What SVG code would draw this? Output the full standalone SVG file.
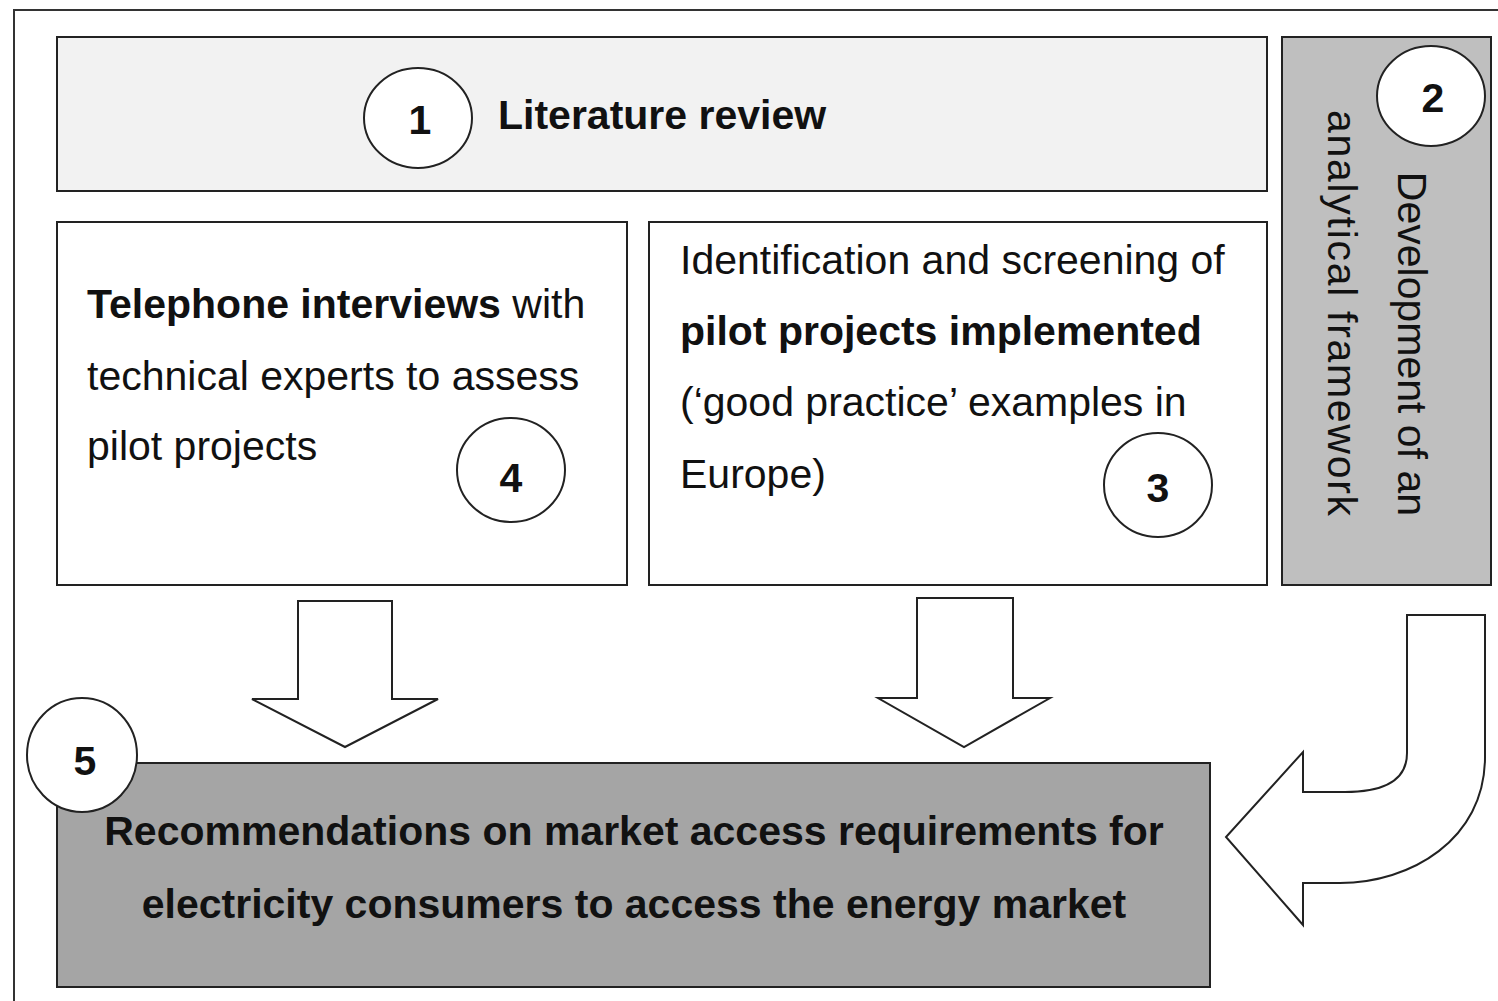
<svg xmlns="http://www.w3.org/2000/svg" width="1498" height="1001" viewBox="0 0 1498 1001">
<style>
  text { font-family: "Liberation Sans", Arial, sans-serif; font-size: 41px; fill: #111; }
  .b { font-weight: bold; }
  .box { stroke: #222; stroke-width: 2; }
  .circ { fill: #fff; stroke: #222; stroke-width: 2; }
  .num { font-weight: bold; text-anchor: middle; }
  .arrow { fill: #fff; stroke: #222; stroke-width: 2; stroke-linejoin: miter; }
</style>
<rect x="0" y="0" width="1498" height="1001" fill="#fff"/>
<rect id="frame" x="14" y="10" width="1510" height="1010" fill="none" stroke="#333" stroke-width="2"/>

<g id="node1">
  <rect class="box" x="57" y="37" width="1210" height="154" fill="#f2f2f2"/>
  <ellipse class="circ" cx="418" cy="118" rx="54" ry="50"/>
  <text class="num" x="420" y="134">1</text>
  <text class="b" x="498" y="129">Literature review</text>
</g>

<g id="node2">
  <rect class="box" x="1282" y="37" width="209" height="548" fill="#bfbfbf"/>
  <ellipse class="circ" cx="1431" cy="96" rx="54" ry="50"/>
  <text class="num" x="1433" y="112">2</text>
  <text transform="translate(1398,516) rotate(90)" text-anchor="end">Development of an</text>
  <text transform="translate(1328,516) rotate(90)" text-anchor="end" textLength="406" lengthAdjust="spacing">analytical framework</text>
</g>

<g id="node4">
  <rect class="box" x="57" y="222" width="570" height="363" fill="#fff"/>
  <text x="87" y="318"><tspan class="b">Telephone interviews</tspan> with</text>
  <text x="87" y="390">technical experts to assess</text>
  <text x="87" y="460">pilot projects</text>
  <ellipse class="circ" cx="511" cy="470" rx="54" ry="52"/>
  <text class="num" x="511" y="492">4</text>
</g>

<g id="node3">
  <rect class="box" x="649" y="222" width="618" height="363" fill="#fff"/>
  <text x="680" y="274">Identification and screening of</text>
  <text class="b" x="680" y="345">pilot projects implemented</text>
  <text x="680" y="416">(‘good practice’ examples in</text>
  <text x="680" y="488">Europe)</text>
  <ellipse class="circ" cx="1158" cy="485" rx="54" ry="52"/>
  <text class="num" x="1158" y="502">3</text>
</g>

<g id="connectors">
  <polygon class="arrow" points="298,601 392,601 392,699 438,699 345,747 252,699 298,699"/>
  <polygon class="arrow" points="917,598 1013,598 1013,698 1050,698 964,747 878,698 917,698"/>
  <path class="arrow" d="M1407,615 H1485 V757 C1485,840 1410,883 1340,883 H1303 V925 L1226,837 L1303,752 V792 H1345 C1385,792 1407,780 1407,753 Z"/>
</g>

<g id="node5">
  <rect class="box" x="57" y="763" width="1153" height="224" fill="#a5a5a5"/>
  <ellipse class="circ" cx="82" cy="755" rx="55" ry="57"/>
  <text class="num" x="85" y="775">5</text>
  <text class="b" x="634" y="845" text-anchor="middle">Recommendations on market access requirements for</text>
  <text class="b" x="634" y="918" text-anchor="middle">electricity consumers to access the energy market</text>
</g>
</svg>
